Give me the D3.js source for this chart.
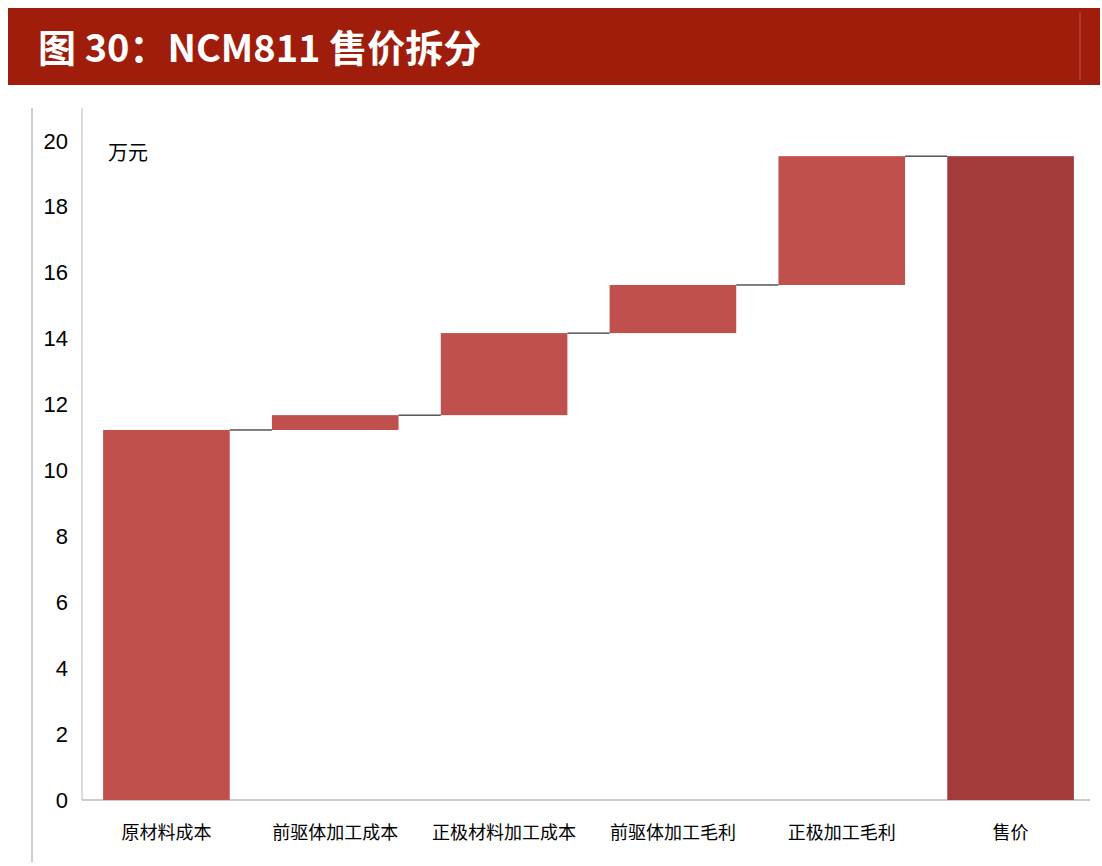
<!DOCTYPE html>
<html><head><meta charset="utf-8">
<script src="https://cdn.jsdelivr.net/npm/d3@7"></script>
<style>body{margin:0;background:#fff}</style>
</head><body>
<svg id="chart" width="1102" height="866"></svg>
<script>
// data
const categories = ['原材料成本', '前驱体加工成本', '正极材料加工成本', '前驱体加工毛利', '正极加工毛利', '售价'];
const deltas = [11.23, 0.45, 2.49, 1.46, 3.91];
const total = 19.54;
const yTicks = [0, 2, 4, 6, 8, 10, 12, 14, 16, 18, 20];

const svg = d3.select('#chart');
const font = '"Noto Sans CJK SC", sans-serif';

// title band
svg.append('rect').attr('x', 8).attr('y', 8).attr('width', 1092).attr('height', 77).attr('fill', '#a01d0b');
svg.append('line').attr('x1', 1080).attr('x2', 1080).attr('y1', 12).attr('y2', 80)
  .attr('stroke', '#c4503c').attr('stroke-width', 1);
svg.append('text').attr('x', 38).attr('y', 62).attr('fill', '#fff')
  .attr('font-family', font).attr('font-weight', 'bold').attr('font-size', 38)
  .text('图 30：NCM811 售价拆分');

// build waterfall rows
let acc = 0;
const rows = deltas.map((d, i) => {
  const r = {cat: categories[i], y0: acc, y1: acc + d, total: i === 0};
  acc += d;
  return r;
});
rows.push({cat: categories[5], y0: 0, y1: total, total: true, last: true});

const x = d3.scaleBand().domain(categories).range([82, 1095]).paddingInner(0.25).paddingOuter(0.125);
const y = d3.scaleLinear().domain([0, 20]).range([800, 141]);

// left frame line
svg.append('line').attr('x1', 32).attr('x2', 32).attr('y1', 108).attr('y2', 862)
  .attr('stroke', '#999').attr('stroke-width', 1);

// y axis
const yAxis = svg.append('g').attr('transform', 'translate(82,0)')
  .call(d3.axisLeft(y).tickValues(yTicks).tickSize(0).tickPadding(14));
yAxis.select('.domain').remove();
yAxis.selectAll('text').attr('font-family', '"Liberation Sans", Arial, sans-serif').attr('font-size', 22).attr('fill', '#000');
svg.append('line').attr('x1', 82).attr('x2', 82).attr('y1', 108).attr('y2', 800).attr('stroke', '#bbb');

// baseline + x labels
svg.append('line').attr('x1', 82).attr('x2', 1090).attr('y1', 800).attr('y2', 800).attr('stroke', '#999');
const xAxis = svg.append('g').attr('transform', 'translate(0,800)')
  .call(d3.axisBottom(x).tickSize(0).tickPadding(26));
xAxis.select('.domain').remove();
xAxis.selectAll('text').attr('font-family', font).attr('font-size', 18).attr('fill', '#000');

// bars
svg.selectAll('rect.bar').data(rows).join('rect').attr('class', 'bar')
  .attr('x', d => x(d.cat)).attr('width', x.bandwidth())
  .attr('y', d => y(d.y1)).attr('height', d => y(d.y0) - y(d.y1))
  .attr('fill', d => d.last ? '#a33b3a' : '#c0504d');

// connectors
svg.selectAll('line.conn').data(rows.slice(0, -1)).join('line').attr('class', 'conn')
  .attr('x1', d => x(d.cat) + x.bandwidth())
  .attr('x2', (d, i) => x(rows[i + 1].cat))
  .attr('y1', d => y(d.y1)).attr('y2', d => y(d.y1))
  .attr('stroke', '#000').attr('stroke-width', 1);

// unit
svg.append('text').attr('x', 108).attr('y', 160).attr('font-family', font).attr('font-size', 20).text('万元');
</script>
</body></html>
